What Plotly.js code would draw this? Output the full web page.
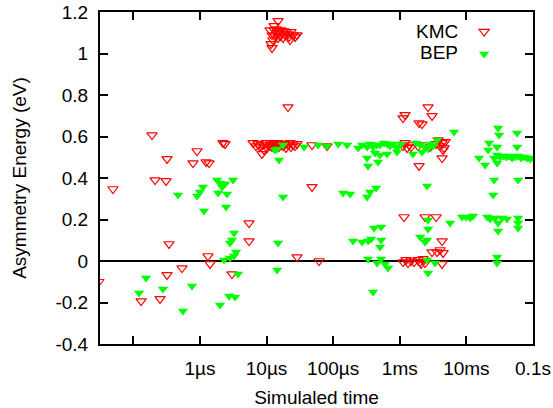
<!DOCTYPE html>
<html>
<head>
<meta charset="utf-8">
<script src="https://cdn.plot.ly/plotly-3.0.1.min.js"></script>
<style>html,body{margin:0;padding:0;background:#fff}#chart{width:553px;height:408px}</style>
</head>
<body>
<div id="chart"></div>
<script>
// Simulated time (s) and asymmetry energy (eV)
const kmcTime = [
  3.05e-8, 4.95e-8, 1.31e-7, 1.91e-7, 2.12e-7, 2.52e-7, 3.10e-7, 3.21e-7, 3.21e-7, 3.44e-7,
  5.38e-7, 7.87e-7, 9.04e-7, 1.24e-6, 1.37e-6, 1.32e-6, 1.42e-6, 2.22e-6, 2.38e-6, 3.03e-6,
  5.46e-6, 5.46e-6,
  6.27e-6, 6.95e-6, 7.45e-6, 7.98e-6, 8.55e-6, 9.16e-6, 8.85e-6, 9.82e-6, 1.02e-5, 1.05e-5,
  1.13e-5, 1.17e-5, 1.21e-5, 1.30e-5, 1.34e-5, 1.39e-5, 1.49e-5, 1.54e-5, 1.65e-5, 1.77e-5,
  1.90e-5, 1.96e-5, 2.10e-5, 2.25e-5, 2.33e-5, 2.50e-5, 2.68e-5, 2.87e-5,
  2.10e-5, 4.82e-5, 4.82e-5, 2.87e-5, 6.14e-5, 8.09e-5,
  1.49e-5, 1.13e-5, 1.21e-5, 1.17e-5, 1.21e-5, 1.25e-5, 1.30e-5, 1.34e-5, 1.39e-5, 1.44e-5,
  1.49e-5, 1.54e-5, 1.60e-5, 1.65e-5, 1.71e-5, 1.77e-5, 1.83e-5, 1.90e-5, 1.96e-5, 2.10e-5,
  2.18e-5, 2.25e-5, 2.33e-5, 2.50e-5, 2.68e-5, 2.87e-5, 1.30e-5,
  1.12e-3, 1.20e-3, 1.95e-3, 2.16e-3, 2.66e-3, 3.05e-3, 1.95e-3, 4.32e-3, 1.16e-3, 2.40e-3,
  3.51e-3, 4.32e-3, 3.05e-3, 3.63e-3, 4.03e-3, 4.47e-3, 4.32e-3,
  1.12e-3, 1.20e-3, 1.29e-3, 1.38e-3, 1.48e-3, 1.88e-3, 2.32e-3, 2.85e-3, 3.51e-3, 3.76e-3,
  4.03e-3, 4.32e-3, 4.62e-3, 4.79e-3, 4.47e-3,
  1.12e-3, 1.24e-3, 1.33e-3, 1.48e-3, 1.64e-3, 1.88e-3, 2.02e-3, 2.24e-3, 2.40e-3, 2.09e-3
];
const kmcEnergy = [
  -0.100, 0.347, -0.193, 0.607, 0.390, -0.183, 0.386, 0.492, -0.067, 0.082,
  -0.034, 0.472, 0.530, 0.477, 0.472, 0.024, -0.014, 0.569, 0.564, -0.063,
  0.183, 0.096,
  0.569, 0.554, 0.564, 0.549, 0.516, 0.535, 0.559, 0.569, 0.545, 0.559,
  0.554, 0.569, 0.549, 0.564, 0.545, 0.559, 0.569, 0.549, 0.559, 0.554,
  0.564, 0.545, 0.559, 0.569, 0.549, 0.559, 0.554, 0.564,
  0.742, 0.559, 0.357, 0.019, 0.000, 0.554,
  1.157, 1.113, 1.089, 1.046, 1.027, 1.065, 1.113, 1.084, 1.118, 1.099,
  1.075, 1.108, 1.084, 1.113, 1.094, 1.075, 1.108, 1.089, 1.104, 1.094,
  1.080, 1.065, 1.104, 1.089, 1.080, 1.089, 1.133,
  0.689, 0.704, 0.665, 0.660, 0.742, 0.699, 0.458, 0.496, 0.212, 0.212,
  0.212, 0.096, 0.043, 0.043, 0.053, 0.039, -0.014,
  0.554, 0.569, 0.545, 0.559, 0.549, 0.554, 0.559, 0.549, 0.564, 0.583,
  0.554, 0.569, 0.545, 0.574, 0.535,
  -0.005, 0.005, -0.010, 0.000, -0.005, 0.005, -0.005, 0.010, -0.010, -0.014
];
const bepTime = [
  1.22e-7, 1.55e-7, 2.79e-7, 4.69e-7, 5.57e-7, 7.60e-7, 9.04e-7, 1.00e-6, 1.11e-6, 1.15e-6,
  1.81e-6, 1.87e-6, 2.00e-6, 2.15e-6, 2.22e-6, 2.38e-6, 2.47e-6, 2.55e-6, 3.14e-6, 2.00e-6,
  2.74e-6, 3.37e-6, 2.30e-6, 2.83e-6, 3.48e-6, 3.73e-6, 3.25e-6, 2.83e-6, 3.03e-6, 3.25e-6,
  1.44e-5, 1.77e-5, 1.54e-5, 1.34e-5, 1.77e-5, 1.49e-5, 1.44e-5, 3.66e-5, 5.93e-5, 8.09e-5,
  1.19e-4, 1.62e-4, 2.37e-4, 2.72e-4, 3.23e-4, 3.58e-4, 3.97e-4, 4.56e-4, 5.06e-4, 5.81e-4,
  6.44e-4, 7.14e-4, 7.92e-4, 8.79e-4, 9.42e-4, 1.05e-3,
  3.23e-4, 3.34e-4, 4.26e-4, 4.72e-4, 5.06e-4, 6.44e-4, 9.10e-4, 1.58e-3, 2.16e-3, 2.40e-3,
  2.66e-3, 1.76e-3, 2.02e-3, 2.85e-3, 3.16e-3, 3.63e-3, 6.53e-3, 2.57e-3,
  1.41e-4, 1.80e-4, 3.23e-4, 3.58e-4, 4.41e-4,
  1.99e-4, 2.72e-4, 3.34e-4, 3.71e-4, 4.11e-4, 5.24e-4, 5.24e-4, 5.06e-4, 3.34e-4, 4.56e-4,
  5.24e-4, 6.01e-4, 6.67e-4, 3.97e-4, 2.02e-3, 2.40e-3, 2.66e-3, 2.66e-3, 2.57e-3, 2.66e-3,
  2.57e-3, 3.39e-3, 5.69e-3, 8.61e-3, 9.89e-3, 1.14e-2, 1.26e-2, 2.05e-2, 2.27e-2, 2.70e-2,
  2.99e-2, 2.99e-2, 3.44e-2, 4.08e-2, 5.97e-2, 5.97e-2, 5.97e-2, 2.89e-2, 2.89e-2, 2.52e-2,
  1.55e-2, 1.91e-2, 2.19e-2, 2.12e-2, 2.99e-2, 3.10e-2, 5.77e-2, 5.77e-2, 2.89e-2, 2.89e-2,
  2.61e-2, 5.97e-2,
  2.61e-2, 2.89e-2, 3.21e-2, 3.55e-2, 3.94e-2, 4.38e-2, 4.85e-2, 5.38e-2, 5.97e-2, 6.62e-2,
  7.35e-2, 8.15e-2, 9.04e-2, 1.00e-1
];
const bepEnergy = [
  -0.154, -0.082, -0.135, 0.318, -0.241, -0.120, 0.313, 0.333, 0.357, 0.241,
  0.390, 0.328, 0.376, 0.357, 0.371, 0.371, 0.260, 0.323, 0.390, -0.212,
  -0.169, -0.173, 0.005, 0.014, 0.043, -0.063, 0.135, 0.087, 0.101, 0.024,
  0.540, 0.559, 0.487, 0.535, 0.308, 0.087, -0.043, 0.549, 0.559, 0.554,
  0.564, 0.559, 0.545, 0.559, 0.549, 0.564, 0.549, 0.559, 0.559, 0.569,
  0.564, 0.554, 0.564, 0.549, 0.549, 0.564,
  0.496, 0.458, 0.520, 0.477, 0.511, 0.516, 0.525, 0.516, 0.525, 0.549,
  0.540, 0.569, 0.559, 0.564, 0.554, 0.583, 0.622, 0.361,
  0.328, 0.323, 0.308, 0.333, 0.352,
  0.096, 0.092, 0.096, 0.106, 0.159, 0.164, 0.101, 0.067, 0.010, -0.010,
  0.010, -0.014, -0.034, -0.149, 0.116, 0.092, 0.198, 0.154, 0.101, -0.058,
  0.005, -0.010, 0.183, 0.212, 0.212, 0.207, 0.217, 0.212, 0.202, 0.207,
  0.183, 0.145, 0.207, 0.202, 0.207, 0.183, 0.159, 0.019, -0.010, 0.318,
  0.496, 0.463, 0.569, 0.535, 0.641, 0.607, 0.617, 0.549, 0.549, 0.472,
  0.390, 0.390,
  0.496, 0.511, 0.501, 0.506, 0.501, 0.506, 0.496, 0.501, 0.506, 0.496,
  0.501, 0.496, 0.492, 0.496
];
const tickVals = [1e-7, 1e-6, 1e-5, 1e-4, 1e-3, 1e-2, 1e-1];
const tickText = ['', '1\u00b5s', '10\u00b5s', '100\u00b5s', '1ms', '10ms', '0.1s'];
const seriesNames = ['KMC', 'BEP'];

const FONT = 'Liberation Sans, Arial, sans-serif';

const traces = [
  {
    x: kmcTime, y: kmcEnergy, type: 'scatter', mode: 'markers', name: '',
    marker: {symbol: 'triangle-down-open', size: 9, color: '#ff0000', line: {width: 1.2, color: '#ff0000'}},
    cliponaxis: true
  },
  {
    x: bepTime, y: bepEnergy, type: 'scatter', mode: 'markers', name: '',
    marker: {symbol: 'triangle-down', size: 9, color: '#00ff00', line: {width: 0}},
    cliponaxis: true
  }
];

const layout = {
  width: 553, height: 408,
  margin: {l: 100, r: 20, t: 12, b: 64, pad: 0},
  paper_bgcolor: '#fff', plot_bgcolor: '#fff',
  font: {family: FONT, size: 19, color: '#000'},
  showlegend: true,
  legend: {
    x: 0.841, y: 0.99, xanchor: 'left', yanchor: 'top',
    bgcolor: 'rgba(0,0,0,0)', font: {size: 15}, itemwidth: 30, tracegroupgap: 0
  },
  xaxis: {
    type: 'log', range: [-7.5, -1],
    tickmode: 'array', tickvals: tickVals, ticktext: tickText,
    ticks: 'inside', ticklen: 8, tickwidth: 2, tickcolor: '#000',
    showline: true, linewidth: 2, linecolor: '#000', mirror: 'ticks',
    showgrid: false, zeroline: false,
    tickfont: {family: FONT, size: 19, color: '#000'},
    ticklabelstandoff: 6,
    title: {text: 'Simulaled time', font: {family: FONT, size: 19, color: '#000'}, standoff: 14}
  },
  yaxis: {
    range: [-0.4, 1.2],
    tickmode: 'array', tickvals: [-0.4, -0.2, 0, 0.2, 0.4, 0.6, 0.8, 1, 1.2],
    ticktext: ['-0.4', '-0.2', '0', '0.2', '0.4', '0.6', '0.8', '1', '1.2'],
    ticks: 'inside', ticklen: 8, tickwidth: 2, tickcolor: '#000',
    showline: true, linewidth: 2, linecolor: '#000', mirror: 'ticks',
    showgrid: false,
    zeroline: true, zerolinecolor: '#000', zerolinewidth: 2,
    tickfont: {family: FONT, size: 19, color: '#000'},
    ticklabelstandoff: 6,
    title: {text: 'Asymmetry Energy (eV)', font: {family: FONT, size: 19, color: '#000'}, standoff: 24}
  },
  annotations: [
    {xref: 'paper', yref: 'paper', x: 0.831, y: 0.94, xanchor: 'right', yanchor: 'middle',
     text: seriesNames[0], showarrow: false, font: {family: FONT, size: 19, color: '#000'}},
    {xref: 'paper', yref: 'paper', x: 0.831, y: 0.877, xanchor: 'right', yanchor: 'middle',
     text: seriesNames[1], showarrow: false, font: {family: FONT, size: 19, color: '#000'}}
  ]
};

Plotly.newPlot('chart', traces, layout, {displayModeBar: false, staticPlot: true});
</script>
</body>
</html>
